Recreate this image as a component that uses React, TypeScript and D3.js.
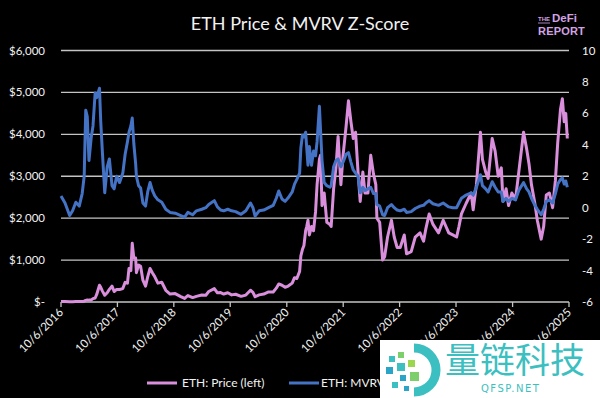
import React from "react";
import * as d3 from "d3";

// sample dates (roughly every 2-4 weeks, denser around spikes)
const dates = [
  "2016-10-06", "2016-11-01", "2016-12-01", "2016-12-20", "2017-01-10", "2017-02-01", "2017-02-20", "2017-03-05",
  "2017-03-15", "2017-03-25", "2017-04-05", "2017-04-20", "2017-05-01", "2017-05-15", "2017-05-25", "2017-06-12",
  "2017-06-20", "2017-07-01", "2017-07-16", "2017-08-01", "2017-08-15", "2017-09-01", "2017-09-15", "2017-10-01",
  "2017-10-20", "2017-11-10", "2017-11-25", "2017-12-10", "2017-12-20", "2018-01-01", "2018-01-10", "2018-01-20",
  "2018-02-01", "2018-02-06", "2018-02-20", "2018-03-05", "2018-03-20", "2018-04-06", "2018-04-20", "2018-05-05",
  "2018-05-20", "2018-06-05", "2018-06-25", "2018-07-20", "2018-08-15", "2018-09-12", "2018-10-15", "2018-11-20",
  "2018-12-15", "2019-01-05", "2019-02-05", "2019-03-01", "2019-04-05", "2019-05-01", "2019-05-20", "2019-06-25",
  "2019-07-15", "2019-08-05", "2019-08-25", "2019-09-20", "2019-10-15", "2019-11-10", "2019-12-15", "2020-01-15",
  "2020-02-14", "2020-03-01", "2020-03-15", "2020-04-10", "2020-05-10", "2020-06-10", "2020-07-10", "2020-07-30",
  "2020-08-15", "2020-09-05", "2020-09-25", "2020-10-15", "2020-11-10", "2020-11-25", "2020-12-10", "2020-12-28",
  "2021-01-05", "2021-01-15", "2021-01-25", "2021-02-05", "2021-02-12", "2021-02-20", "2021-03-01", "2021-03-15",
  "2021-03-28", "2021-04-10", "2021-04-20", "2021-05-05", "2021-05-12", "2021-05-22", "2021-06-05", "2021-06-22",
  "2021-07-12", "2021-07-20", "2021-08-05", "2021-08-20", "2021-09-03", "2021-09-21", "2021-10-05", "2021-10-25",
  "2021-11-09", "2021-11-25", "2021-12-10", "2021-12-25", "2022-01-10", "2022-01-24", "2022-02-10", "2022-02-24",
  "2022-03-15", "2022-04-02", "2022-04-20", "2022-05-05", "2022-05-12", "2022-05-30", "2022-06-18", "2022-07-01",
  "2022-07-20", "2022-08-14", "2022-09-01", "2022-09-20", "2022-10-10", "2022-11-05", "2022-11-20", "2022-12-20",
  "2023-01-15", "2023-02-15", "2023-03-10", "2023-03-25", "2023-04-15", "2023-05-10", "2023-06-15", "2023-07-15",
  "2023-08-20", "2023-09-15", "2023-10-10", "2023-10-25", "2023-11-10", "2023-12-10", "2024-01-12", "2024-01-25",
  "2024-02-15", "2024-03-12", "2024-03-25", "2024-04-15", "2024-05-01", "2024-05-27", "2024-06-15", "2024-07-05",
  "2024-07-25", "2024-08-05", "2024-08-25", "2024-09-10", "2024-10-01", "2024-10-25", "2024-11-15", "2024-12-16",
  "2025-01-05", "2025-01-20", "2025-02-05", "2025-02-25", "2025-03-15", "2025-04-09", "2025-04-25", "2025-05-12",
  "2025-06-01", "2025-06-22", "2025-07-10", "2025-07-25", "2025-08-12", "2025-08-24", "2025-09-05", "2025-09-15",
  "2025-09-25",
];

// ETH price, USD
const price = [
  13, 11, 8, 8, 10, 11, 13, 20,
  40, 50, 45, 50, 80, 95, 180, 400,
  350, 260, 160, 220, 300, 380, 250, 300,
  300, 320, 470, 450, 800, 750, 1400, 1050,
  1050, 700, 880, 850, 520, 380, 600, 800,
  700, 600, 450, 470, 280, 190, 200, 130,
  85, 155, 105, 135, 165, 160, 250, 320,
  220, 225, 190, 220, 170, 185, 135, 165,
  280, 230, 125, 170, 190, 240, 240, 330,
  430, 400, 350, 380, 450, 580, 560, 730,
  1100, 1250, 1350, 1700, 1800, 1950, 1600, 1800,
  1700, 2150, 2800, 3400, 3500, 2300, 2600, 1900,
  1850, 1800, 2700, 3200, 3950, 2800, 3500, 4200,
  4800, 4300, 3900, 4050, 3100, 2400, 3100, 2600,
  2600, 3500, 3050, 2800, 2000, 1900, 1000, 1080,
  1550, 1950, 1550, 1300, 1300, 1600, 1150, 1200,
  1550, 1650, 1450, 1750, 2100, 1850, 1650, 1950,
  1650, 1600, 1550, 1800, 2100, 2350, 2600, 2200,
  2800, 4050, 3400, 3100, 2950, 3900, 3600, 3000,
  3200, 2400, 2700, 2300, 2600, 2450, 3100, 4050,
  3650, 3300, 2800, 2400, 1950, 1500, 1800, 2550,
  2600, 2250, 2900, 3800, 4600, 4850, 4300, 4500,
  3900,
];

// MVRV Z-Score
const zscore = [
  0.75, 0.3, -0.5, -0.2, 0.35, 0.1, 0.9, 2.0,
  6.2, 5.8, 3.0, 4.5, 5.2, 7.3, 7.0, 7.6,
  5.5, 3.5, 0.95, 2.6, 3.1, 1.4, 1.2, 2.0,
  1.6, 2.2, 3.4, 4.2, 4.8, 5.2, 5.7, 4.1,
  2.8, 2.0, 1.4, 1.25, 0.3, 0.1, 1.0, 1.6,
  1.1, 0.75, 0.5, 0.35, -0.1, -0.3, -0.35, -0.5,
  -0.6, -0.3, -0.45, -0.2, -0.1, 0, 0.2, 0.45,
  0.05, -0.15, -0.2, -0.1, -0.2, -0.25, -0.42, -0.2,
  0.3, 0.0, -0.53, -0.2, -0.15, 0.0, 0.15, 0.6,
  1.06, 0.55, 0.4, 0.63, 1.0, 1.5, 1.8, 2.2,
  3.8, 4.6, 4.5, 4.8, 3.8, 2.7, 3.9, 2.7,
  3.6, 3.3, 4.2, 6.45, 5.0, 3.0, 1.6, 1.4,
  1.3, 1.4, 2.6, 3.0, 3.1, 2.6, 2.9, 3.4,
  3.5, 2.9, 2.4, 2.2, 2.0, 0.95, 1.3, 1.1,
  1.2, 1.3, 0.9, 0.9, 0.2, 0.1, -0.45, -0.5,
  0.0, 0.2, 0.0, -0.15, -0.2, -0.1, -0.3, -0.25,
  -0.05, 0.1, 0.15, 0.3, 0.45, 0.25, 0.15, 0.3,
  0.05, 0.0, 0.0, 0.3, 0.6, 0.8, 0.95, 0.8,
  1.3, 2.1, 1.4, 1.2, 1.0, 1.65, 1.3, 1.0,
  1.0, 0.4, 0.6, 0.4, 0.6, 0.5, 1.1, 1.6,
  1.2, 1.0, 0.6, 0.2, -0.1, -0.45, -0.1, 0.4,
  0.5, 0.3, 0.9, 1.5, 1.8, 1.9, 1.5, 1.7,
  1.3,
];

const priceTicks = [0, 1000, 2000, 3000, 4000, 5000, 6000];
const zTicks = [-6, -4, -2, 0, 2, 4, 6, 8, 10];
const dateTicks = [
  "10/6/2016", "10/6/2017", "10/6/2018", "10/6/2019", "10/6/2020",
  "10/6/2021", "10/6/2022", "10/6/2023", "10/6/2024", "10/6/2025",
];

const W = 600;
const H = 398;
const plot = { left: 61, right: 569, top: 50.5, bottom: 302 };
const PINK = "#d98fdb";
const BLUE = "#4472c4";
const FONT = "Lato, 'Open Sans', sans-serif";

const parseDay = d3.timeParse("%Y-%m-%d");
const parseTick = d3.timeParse("%m/%d/%Y");

export default function App() {
  const rows = dates.map((d, i) => ({ date: parseDay(d)!, price: price[i], z: zscore[i] }));
  const tickDates = dateTicks.map((t) => parseTick(t)!);

  const x = d3
    .scaleTime()
    .domain([tickDates[0], tickDates[tickDates.length - 1]])
    .range([plot.left, plot.right]);
  const yPrice = d3.scaleLinear().domain([0, 6000]).range([plot.bottom, plot.top]);
  const yZ = d3.scaleLinear().domain([-6, 10]).range([plot.bottom, plot.top]);

  const priceLine = d3
    .line<(typeof rows)[number]>()
    .x((d) => x(d.date))
    .y((d) => yPrice(d.price));
  const zLine = d3
    .line<(typeof rows)[number]>()
    .x((d) => x(d.date))
    .y((d) => yZ(d.z));

  const fmtPrice = (v: number) => (v === 0 ? "$-" : d3.format("$,.0f")(v));

  return (
    <svg width={W} height={H} style={{ position: "absolute", left: 0, top: 0, background: "#000" }}>
      <rect width={W} height={H} fill="#000" />

      {/* title */}
      <text x={300} y={30} textAnchor="middle" fill="#f2f2f2" fontSize={18} fontFamily={FONT}>
        ETH Price &amp; MVRV Z-Score
      </text>
      {/* logo */}
      <g fontFamily="'Liberation Sans', sans-serif" fontWeight="bold" fill="#d2a2e4">
        <text x={538} y={21} fontSize={6}>THE</text>
        <line x1={538} x2={550} y1={23} y2={23} stroke="#d2a2e4" strokeWidth={0.8} />
        <text x={552} y={22} fontSize={11.5}>DeFi</text>
        <text x={538} y={35} fontSize={11} letterSpacing={0.2}>REPORT</text>
      </g>

      {/* gridlines */}
      {priceTicks.map((t) => (
        <line key={t} x1={plot.left} x2={plot.right} y1={yPrice(t)} y2={yPrice(t)} stroke="#c4c4c4" strokeWidth={1.3} />
      ))}
      {/* x axis ticks */}
      {tickDates.map((d, i) => (
        <line key={i} x1={x(d)} x2={x(d)} y1={plot.bottom} y2={plot.bottom + 5} stroke="#c4c4c4" strokeWidth={1.3} />
      ))}

      {/* left axis labels */}
      {priceTicks.map((t) => (
        <text key={t} x={45} y={yPrice(t)} dy="0.35em" textAnchor="end" fill="#f2f2f2" fontSize={11.5} fontFamily={FONT}>
          {fmtPrice(t)}
        </text>
      ))}
      {/* right axis labels */}
      {zTicks.map((t) => (
        <text key={t} x={582} y={yZ(t)} dy="0.35em" textAnchor="start" fill="#f2f2f2" fontSize={11.5} fontFamily={FONT}>
          {t}
        </text>
      ))}
      {/* date labels */}
      {tickDates.map((d, i) => (
        <text
          key={i}
          transform={`translate(${x(d) + 3},${plot.bottom + 11}) rotate(-45)`}
          textAnchor="end"
          fill="#f2f2f2"
          fontSize={11.5}
          fontFamily={FONT}
        >
          {dateTicks[i]}
        </text>
      ))}

      {/* series */}
      <path d={priceLine(rows) ?? ""} fill="none" stroke={PINK} strokeWidth={3} strokeLinejoin="round" />
      <path d={zLine(rows) ?? ""} fill="none" stroke={BLUE} strokeWidth={3} strokeLinejoin="round" />

      {/* legend */}
      <g fontFamily={FONT} fontSize={12} fill="#f2f2f2">
        <line x1={147} x2={177} y1={383} y2={383} stroke={PINK} strokeWidth={3} />
        <text x={182} y={383} dy="0.35em">ETH: Price (left)</text>
        <line x1={289} x2={319} y1={383} y2={383} stroke={BLUE} strokeWidth={3} />
        <text x={321} y={383} dy="0.35em">ETH: MVRV Z-Score (right)</text>
      </g>

      {/* watermark */}
      <g>
        <rect x={380} y={340} width={220} height={58} fill="#fff" />
        <path d="M 414 348 A 22 22 0 1 1 414 392" fill="none" stroke="#3cbfc0" strokeWidth={9} />
        <rect x={389} y={356} width={6} height={6} fill="#3cbfc0" />
        <rect x={398} y={352} width={6} height={6} fill="#7ccf6a" />
        <rect x={386} y={367} width={7} height={7} fill="#2aa5c8" />
        <rect x={397} y={363} width={8} height={8} fill="#3cbfc0" />
        <rect x={408} y={360} width={7} height={7} fill="#9ad64e" />
        <rect x={400} y={375} width={6} height={6} fill="#2aa5c8" />
        <rect x={410} y={372} width={9} height={9} fill="#7ccf6a" />
        <rect x={392} y={382} width={6} height={6} fill="#3cbfc0" />
        <rect x={404} y={386} width={5} height={5} fill="#2aa5c8" />
        <text x={445} y={373} fill="#3cbfc0" fontSize={35} fontFamily="'Noto Sans CJK SC', sans-serif">量链科技</text>
        <text x={481} y={392} fill="#3cbfc0" fontSize={10} letterSpacing={1.5} fontFamily="'DejaVu Sans', sans-serif">QFSP.NET</text>
      </g>
    </svg>
  );
}
